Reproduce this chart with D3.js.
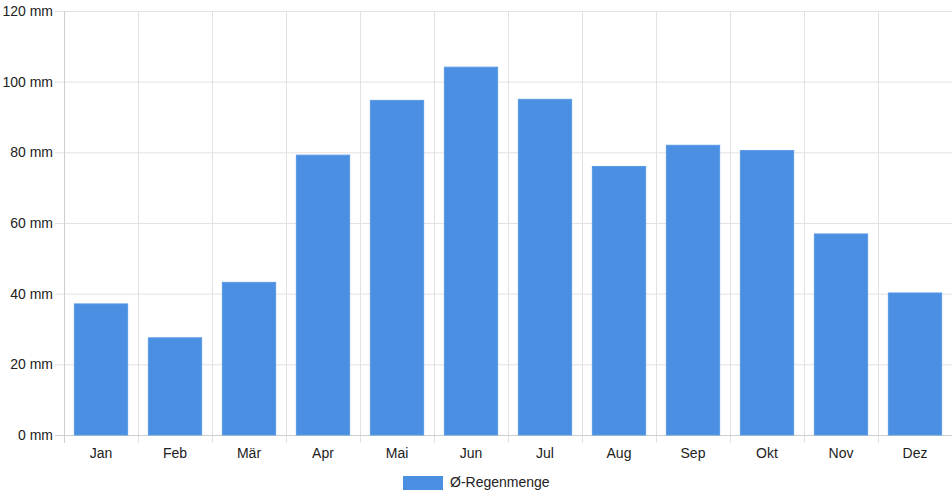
<!DOCTYPE html>
<html lang="de">
<head>
<meta charset="utf-8">
<script src="https://d3js.org/d3.v7.min.js"></script>
<style>
  body { margin: 0; background: #fff; }
  svg text { font-family: "Liberation Sans", Arial, Helvetica, sans-serif; fill: #222; }
</style>
</head>
<body>
<div id="chart"></div>
<script>
// monthly average rainfall (mm)
var months = ["Jan", "Feb", "Mär", "Apr", "Mai", "Jun", "Jul", "Aug", "Sep", "Okt", "Nov", "Dez"];
var rain = [37.1, 27.5, 43.2, 79.2, 94.7, 104.1, 95.0, 76.0, 82.0, 80.5, 56.9, 40.2];
var yTicks = [0, 20, 40, 60, 80, 100, 120];
var seriesName = "Ø-Regenmenge";

var W = 952, H = 500;
var margin = {top: 11, right: 0, bottom: 65, left: 64};
var width = W - margin.left - margin.right,
    height = H - margin.top - margin.bottom;

var svg = d3.select("#chart").append("svg")
    .attr("width", W)
    .attr("height", H);

var g = svg.append("g")
    .attr("transform", `translate(${margin.left},${margin.top})`);

var x = d3.scaleBand().domain(months).range([0, width]);
var y = d3.scaleLinear().domain([0, 120]).range([height, 0]);

// horizontal grid + left ticks
g.append("g").selectAll("line").data(yTicks).enter()
  .append("line")
    .attr("x1", -9).attr("x2", width)
    .attr("y1", d => y(d) + 0.5).attr("y2", d => y(d) + 0.5)
    .attr("stroke", "#e2e2e2");

// vertical grid + bottom ticks
g.append("g").selectAll("line").data(d3.range(months.length + 1)).enter()
  .append("line")
    .attr("x1", i => Math.round(i * x.step()) + 0.5)
    .attr("x2", i => Math.round(i * x.step()) + 0.5)
    .attr("y1", 0).attr("y2", height + 8)
    .attr("stroke", "#e2e2e2");

// axis lines
g.append("line")
  .attr("x1", 0.5).attr("x2", 0.5).attr("y1", 0).attr("y2", height + 8)
  .attr("stroke", "#cfcfcf");
g.append("line")
  .attr("x1", -9).attr("x2", width).attr("y1", height + 0.5).attr("y2", height + 0.5)
  .attr("stroke", "#cfcfcf");

// y labels
g.append("g").selectAll("text").data(yTicks).enter()
  .append("text")
    .attr("x", -11)
    .attr("y", d => y(d))
    .attr("dy", "0.35em")
    .attr("text-anchor", "end")
    .style("font-size", "14px")
    .text(d => d + " mm");

// x labels
g.append("g").selectAll("text").data(months).enter()
  .append("text")
    .attr("x", d => x(d) + x.bandwidth() / 2)
    .attr("y", height + 23)
    .attr("text-anchor", "middle")
    .style("font-size", "14px")
    .text(d => d);

// bars
var barW = x.bandwidth() * 0.72;
g.append("g").selectAll("rect").data(rain).enter()
  .append("rect")
    .attr("x", (d, i) => x(months[i]) + (x.bandwidth() - barW) / 2)
    .attr("y", d => y(d))
    .attr("width", barW)
    .attr("height", d => height - y(d))
    .attr("fill", "#4a8fe2")
    .attr("stroke", "#5a9ae6")
    .attr("stroke-width", 1);

// legend
var leg = svg.append("g").attr("transform", "translate(403,476)");
leg.append("rect")
  .attr("width", 40).attr("height", 14)
  .attr("fill", "#4a8fe2");
leg.append("text")
  .attr("x", 47).attr("y", 11)
  .style("font-size", "14px")
  .text(seriesName);
</script>
</body>
</html>
